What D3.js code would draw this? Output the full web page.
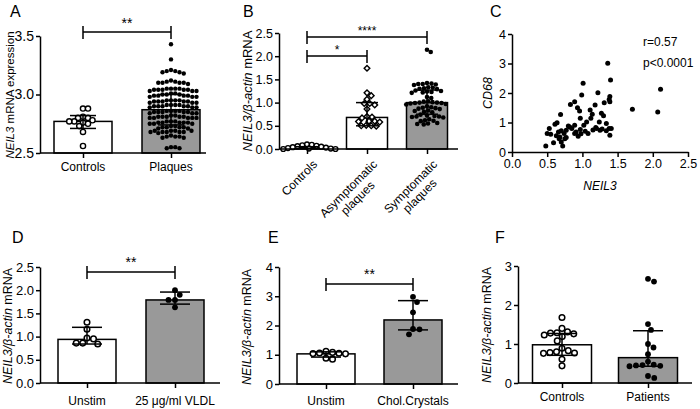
<!DOCTYPE html>
<html><head><meta charset="utf-8">
<script src="https://cdn.jsdelivr.net/npm/d3@7"></script>
<style>body{margin:0;background:#fff}svg{display:block}</style>
</head><body><svg id="c" width="700" height="409"></svg>
<script>
// ---------------- DATA ----------------
// Panel A
const aCategories = ["Controls", "Plaques"];
const aControls = [2.88, 2.88, 2.81, 2.80, 2.80, 2.78, 2.77, 2.77, 2.76, 2.75, 2.73, 2.68, 2.56];
const aPlaques = [3.43, 3.30,
  3.21, 3.20, 3.19, 3.18, 3.19, 3.20,
  3.11, 3.10, 3.10, 3.10, 3.10, 3.09, 3.11, 3.12,
  3.05, 3.05, 3.04, 3.04, 3.04, 3.03, 3.03, 3.03, 3.04, 3.05, 3.05, 3.04,
  3.01, 3.00, 3.00, 2.99, 2.99, 2.99, 2.98, 2.98, 2.99, 3.00, 3.01, 2.98,
  2.95, 2.95, 2.94, 2.94, 2.93, 2.93, 2.93, 2.94, 2.94, 2.95, 2.95, 2.94,
  2.91, 2.91, 2.90, 2.90, 2.89, 2.89, 2.89, 2.90, 2.90, 2.91, 2.91, 2.90,
  2.86, 2.86, 2.85, 2.85, 2.84, 2.84, 2.84, 2.85, 2.85, 2.86, 2.86, 2.85,
  2.82, 2.81, 2.81, 2.80, 2.80, 2.80, 2.80, 2.81, 2.81, 2.82, 2.81, 2.80,
  2.77, 2.77, 2.76, 2.76, 2.75, 2.75, 2.75, 2.76, 2.76, 2.77, 2.76,
  2.73, 2.72, 2.72, 2.71, 2.71, 2.72, 2.73, 2.72,
  2.69, 2.69, 2.68, 2.68, 2.68, 2.67, 2.68, 2.69, 2.69, 2.68,
  2.64, 2.64, 2.63, 2.63, 2.64, 2.65,
  2.55, 2.54, 2.54, 2.55];
const aMeans = [2.77, 2.87];
const aErrLow = [2.71, 2.74];
const aErrHigh = [2.82, 3.00];
const aTicks = [2.5, 3.0, 3.5];

// Panel B
const bCategories = ["Controls", "Asymptomatic\nplaques", "Symptomatic\nplaques"];
const bControls = [0.10, 0.09, 0.07, 0.05, 0.04, 0.02, 0.01, 0.00, 0.00, 0.01, 0.03, 0.06, 0.08];
const bAsymptomatic = [1.74, 1.21, 1.15, 1.07, 0.98, 0.98, 0.95, 0.86, 0.69, 0.67, 0.70, 0.60, 0.59, 0.58, 0.60, 0.50, 0.49, 0.50, 0.51];
const bSymptomatic = [2.14, 2.09,
  1.42, 1.41, 1.40, 1.40, 1.39, 1.38,
  1.33, 1.32, 1.31, 1.30, 1.29,
  1.26, 1.25, 1.24, 1.23, 1.22, 1.21,
  1.12, 1.10,
  1.03, 1.02, 1.01, 1.00, 1.00, 0.99, 0.99, 0.98, 0.97, 0.96,
  0.92, 0.90, 0.89, 0.88, 0.87, 0.86,
  0.83, 0.82, 0.80, 0.79,
  0.74, 0.72, 0.71, 0.70, 0.70, 0.69, 0.68,
  0.64, 0.62, 0.61, 0.60,
  0.56, 0.55, 0.54, 0.53];
const bMeans = [0.03, 0.68, 1.00];
const bErrLow = [0.01, 0.50, 0.75];
const bErrHigh = [0.05, 1.00, 1.27];
const bTicks = [0, 0.5, 1.0, 1.5, 2.0, 2.5];

// Panel C
const cNEIL3 = [0.48, 0.50, 0.53, 0.59, 0.61, 0.64, 0.66, 0.68, 0.70, 0.69, 0.70, 0.72, 0.74, 0.77, 0.77, 0.80, 0.85, 0.83, 0.89, 0.89,
  0.89, 0.94, 0.93, 0.96, 0.97, 0.97, 0.99, 1.01, 1.02, 1.04, 1.06, 1.08, 1.11, 1.12, 1.14, 1.18, 1.19, 1.20, 1.22, 1.24,
  1.25, 1.27, 1.30, 1.31, 1.34, 1.34, 1.36, 1.38, 1.38, 1.40, 1.39, 1.39, 1.39, 1.41, 1.71, 2.07, 2.11,
  0.55, 0.63, 0.67, 0.75, 0.82, 0.91, 0.98, 1.15, 1.28];
const cCD68 = [0.20, 0.63, 0.80, 0.31, 0.94, 0.99, 0.68, 0.51, 0.72, 1.27, 0.34, 0.20, 0.63, 0.74, 0.49, 0.88, 0.80, 1.61, 1.70, 0.91,
  0.63, 0.53, 1.50, 1.39, 0.76, 1.14, 1.93, 2.33, 0.91, 0.70, 1.02, 0.63, 1.42, 1.14, 1.28, 1.59, 0.83, 0.80, 2.01, 1.02,
  0.74, 1.31, 1.23, 1.67, 0.72, 0.97, 3.01, 1.78, 0.80, 2.44, 1.88, 1.70, 0.57, 0.80, 1.45, 1.36, 2.13,
  0.60, 0.55, 0.45, 0.45, 0.85, 0.68, 0.62, 0.75, 0.78];
const cXTicks = [0, 0.5, 1.0, 1.5, 2.0, 2.5];
const cYTicks = [0, 1, 2, 3, 4];
const cStats = ["r=0.57", "p<0.0001"];

// Panel D
const dCategories = ["Unstim", "25 μg/ml VLDL"];
const dUnstim = [1.31, 1.16, 0.97, 0.86, 0.84, 0.86, 0.95];
const dVLDL = [2.00, 1.90, 1.79, 1.79, 1.63];
const dMeans = [0.94, 1.79];
const dErrLow = [0.84, 1.70];
const dErrHigh = [1.20, 1.96];
const dTicks = [0, 0.5, 1.0, 1.5, 2.0, 2.5];

// Panel E
const eCategories = ["Unstim", "Chol.Crystals"];
const eUnstim = [1.12, 1.08, 1.06, 1.05, 1.04, 1.03, 0.88, 0.85];
const eChol = [2.98, 2.80, 2.45, 1.88, 1.87, 1.70];
const eMeans = [1.03, 2.19];
const eErrLow = [0.92, 1.85];
const eErrHigh = [1.10, 2.85];
const eTicks = [0, 1, 2, 3, 4];

// Panel F
const fCategories = ["Controls", "Patients"];
const fControls = [1.68, 1.40, 1.31, 1.29, 1.28, 1.26, 1.23, 1.19, 1.08, 0.89, 0.80, 0.77, 0.76, 0.78, 0.83, 0.61, 0.44];
const fPatients = [2.67, 2.60, 1.51, 1.36, 1.00, 0.91, 0.74, 0.55, 0.47, 0.46, 0.45, 0.44, 0.43, 0.18, 0.13];
const fMeans = [0.98, 0.65];
const fErrLow = [0.71, 0.43];
const fErrHigh = [1.27, 1.34];
const fTicks = [0, 1, 2, 3];

// ---------------- DRAWING ----------------
const svg = d3.select("#c");
const FONT = "'Liberation Sans', Arial, Helvetica, sans-serif";
svg.append("rect").attr("width", 700).attr("height", 409).attr("fill", "#fff");

function swarm(vals, y, diam) {
  const pts = vals.map((v, i) => ({ v, i, y: y(v) })).sort((a, b) => b.v - a.v);
  const placed = [];
  for (const p of pts) {
    let off = 0;
    for (let k = 0; k < 2000; k++) {
      const o = (k % 2 ? 1 : -1) * Math.ceil(k / 2) * 0.25;
      if (placed.every(q => (q.x - o) ** 2 + (q.y - p.y) ** 2 >= diam * diam)) { off = o; break; }
    }
    p.x = off; placed.push(p);
  }
  return pts;
}

function drawMarker(g, cx, cy, m) {
  if (m.type === "diamond") {
    g.append("path").attr("d", d3.symbol(d3.symbolSquare, m.size)())
      .attr("transform", `translate(${cx},${cy}) rotate(45)`)
      .attr("fill", m.filled ? "#000" : "#fff").attr("stroke", "#000").attr("stroke-width", m.sw || 1.3);
  } else {
    g.append("circle").attr("cx", cx).attr("cy", cy).attr("r", m.r)
      .attr("fill", m.filled ? "#000" : "#fff").attr("stroke", "#000").attr("stroke-width", m.filled ? 0 : (m.sw || 1.3));
  }
}

function yTitle(g, x, yc, segs, size) {
  const t = g.append("text").attr("transform", `translate(${x},${yc}) rotate(-90)`)
    .attr("text-anchor", "middle").attr("font-family", FONT).attr("font-size", size).attr("fill", "#000");
  segs.forEach(s => t.append("tspan").text(s[0]).attr("font-style", s[1] ? "italic" : "normal"));
}

function letter(x, y, s) {
  svg.append("text").attr("x", x).attr("y", y).text(s).attr("font-family", FONT).attr("font-size", 16).attr("fill", "#000");
}

function styleAxis(ax, fs) {
  ax.selectAll("path,line").attr("stroke", "#000").attr("stroke-width", 1.5);
  ax.selectAll("text").attr("font-family", FONT).attr("font-size", fs).attr("fill", "#000");
}

function drawBarPanel(cfg) {
  const g = svg.append("g");
  const y = d3.scaleLinear().domain(cfg.domain).range([cfg.y0, cfg.yTop]);
  const x = d3.scalePoint().domain(cfg.cats).range(cfg.xRange);
  // bars
  g.selectAll("rect.bar").data(cfg.means).join("rect").attr("class", "bar")
    .attr("x", (d, i) => x(cfg.cats[i]) - cfg.barW / 2).attr("y", d => y(d))
    .attr("width", cfg.barW).attr("height", d => cfg.y0 - y(d))
    .attr("fill", (d, i) => cfg.fills[i]).attr("stroke", "#000").attr("stroke-width", 1.5);
  // points
  cfg.groups.forEach((vals, i) => {
    const m = cfg.markers[i];
    const pts = swarm(vals, y, m.diam);
    pts.forEach(p => drawMarker(g, x(cfg.cats[i]) + p.x, p.y, m));
  });
  // error bars
  cfg.cats.forEach((c, i) => {
    const cx = x(c), cw = cfg.capW;
    const lo = y(cfg.errLow[i]), hi = y(cfg.errHigh[i]);
    g.append("line").attr("x1", cx).attr("x2", cx).attr("y1", lo).attr("y2", hi).attr("stroke", "#000").attr("stroke-width", 1.5);
    [lo, hi].forEach(yy => g.append("line").attr("x1", cx - cw / 2).attr("x2", cx + cw / 2).attr("y1", yy).attr("y2", yy).attr("stroke", "#000").attr("stroke-width", 1.5));
  });
  // y axis
  const ya = g.append("g").attr("transform", `translate(${cfg.yAxisX},0)`)
    .call(d3.axisLeft(y).tickValues(cfg.ticks).tickFormat(d3.format(cfg.fmt)).tickSize(4).tickPadding(2).tickSizeOuter(0));
  styleAxis(ya, cfg.tickFs);
  // x axis
  g.append("line").attr("x1", cfg.yAxisX).attr("x2", cfg.xEnd).attr("y1", cfg.y0).attr("y2", cfg.y0).attr("stroke", "#000").attr("stroke-width", 1.5);
  const xa = g.append("g").attr("transform", `translate(0,${cfg.y0})`)
    .call(d3.axisBottom(x).tickSize(5).tickFormat(""));
  xa.select(".domain").remove();
  styleAxis(xa, 12);
  // x labels
  if (cfg.rotated) {
    cfg.cats.forEach(c => {
      const lines = c.split("\n");
      const lg = g.append("g").attr("transform", `translate(${x(c) + 11},${cfg.y0 + 16}) rotate(-45)`);
      if (lines.length === 1) {
        lg.append("text").attr("text-anchor", "end").text(c).attr("font-family", FONT).attr("font-size", 12);
      } else {
        const t0 = lg.append("text").attr("text-anchor", "end").text(lines[0]).attr("font-family", FONT).attr("font-size", 12);
        const L = t0.node().getComputedTextLength();
        lines.slice(1).forEach((ln, k) => lg.append("text").attr("text-anchor", "middle").attr("x", -L / 2).attr("y", 13 * (k + 1))
          .text(ln).attr("font-family", FONT).attr("font-size", 12));
      }
    });
  } else {
    g.selectAll("text.xl").data(cfg.cats).join("text").attr("class", "xl")
      .attr("x", d => x(d)).attr("y", cfg.xLabelY).attr("text-anchor", "middle").text(d => d)
      .attr("font-family", FONT).attr("font-size", 12).attr("fill", "#000");
  }
  // brackets
  (cfg.brackets || []).forEach(b => {
    const x1 = x(cfg.cats[b.from]), x2 = x(cfg.cats[b.to]);
    g.append("path").attr("d", `M${x1},${b.y - 6}V${b.y + 7}M${x1},${b.y}H${x2}M${x2},${b.y - 6}V${b.y + 7}`)
      .attr("fill", "none").attr("stroke", "#000").attr("stroke-width", 1.5);
    g.append("text").attr("x", (x1 + x2) / 2).attr("y", b.y - b.gap).attr("text-anchor", "middle").text(b.label)
      .attr("font-family", FONT).attr("font-size", b.fs).attr("fill", "#000");
  });
  yTitle(g, cfg.titleX, cfg.titleY, cfg.title, cfg.titleFs);
}

const titleBeta = [["NEIL3/β-actin", true], [" mRNA", false]];
const open = (r, diam, sw) => ({ type: "circle", filled: false, r, diam, sw });
const filled = (r, diam) => ({ type: "circle", filled: true, r, diam });

// Panel A
drawBarPanel({
  cats: aCategories, groups: [aControls, aPlaques], means: aMeans, errLow: aErrLow, errHigh: aErrHigh,
  domain: [2.5, 3.5], ticks: aTicks, fmt: ".1f", tickFs: 14,
  y0: 153, yTop: 36, yAxisX: 40, xEnd: 206, xRange: [83, 171], barW: 58, capW: 26,
  fills: ["#fff", "#999"], markers: [open(2.6, 5, 1.4), filled(2.2, 4.2)],
  xLabelY: 171, brackets: [{ from: 0, to: 1, y: 32, label: "**", gap: 4, fs: 14 }],
  title: [["NEIL3", true], [" mRNA expression", false]], titleX: 14, titleY: 95, titleFs: 11.5
});
letter(10, 17, "A");

// Panel B
drawBarPanel({
  cats: bCategories, groups: [bControls, bAsymptomatic, bSymptomatic], means: bMeans, errLow: bErrLow, errHigh: bErrHigh,
  domain: [0, 2.5], ticks: bTicks, fmt: ".1f", tickFs: 12.5,
  y0: 149, yTop: 33, yAxisX: 279, xEnd: 458, xRange: [307, 427], barW: 41, capW: 22,
  fills: ["#fff", "#fff", "#999"],
  markers: [open(2.4, 4.6, 1.4), { type: "diamond", filled: false, size: 16, diam: 5, sw: 1.4 }, filled(2.3, 4.3)],
  rotated: true,
  brackets: [{ from: 0, to: 2, y: 37, label: "****", gap: 2, fs: 12 }, { from: 0, to: 1, y: 56, label: "*", gap: 2, fs: 12 }],
  title: titleBeta, titleX: 252, titleY: 91, titleFs: 13
});
letter(243, 17, "B");

// Panel C
(function () {
  const g = svg.append("g");
  const x = d3.scaleLinear().domain([0, 2.5]).range([512, 688]);
  const y = d3.scaleLinear().domain([0, 4]).range([152, 34]);
  g.selectAll("circle").data(cNEIL3).join("circle")
    .attr("cx", d => x(d)).attr("cy", (d, i) => y(cCD68[i])).attr("r", 2.5).attr("fill", "#000");
  const ya = g.append("g").attr("transform", "translate(512,0)")
    .call(d3.axisLeft(y).tickValues(cYTicks).tickFormat(d3.format("d")).tickSize(4).tickPadding(2).tickSizeOuter(0));
  styleAxis(ya, 12.5);
  const xa = g.append("g").attr("transform", "translate(0,152)")
    .call(d3.axisBottom(x).tickValues(cXTicks).tickFormat(d3.format(".1f")).tickSize(5).tickPadding(2).tickSizeOuter(0));
  styleAxis(xa, 12.5);
  g.append("text").attr("x", 600).attr("y", 190).attr("text-anchor", "middle").text("NEIL3")
    .attr("font-family", FONT).attr("font-style", "italic").attr("font-size", 12);
  yTitle(g, 492, 93, [["CD68", true]], 12.5);
  cStats.forEach((s, i) => g.append("text").attr("x", 643).attr("y", 46 + i * 21).text(s)
    .attr("font-family", FONT).attr("font-size", 12));
})();
letter(490, 17, "C");

// Panel D
drawBarPanel({
  cats: dCategories, groups: [dUnstim, dVLDL], means: dMeans, errLow: dErrLow, errHigh: dErrHigh,
  domain: [0, 2.5], ticks: dTicks, fmt: ".1f", tickFs: 13,
  y0: 383, yTop: 267, yAxisX: 40, xEnd: 220, xRange: [87, 175], barW: 58, capW: 30,
  fills: ["#fff", "#999"], markers: [open(2.8, 6.5, 1.5), filled(2.9, 6.5)],
  xLabelY: 405, brackets: [{ from: 0, to: 1, y: 272, label: "**", gap: 5, fs: 14 }],
  title: titleBeta, titleX: 12, titleY: 326, titleFs: 12.5
});
letter(12, 243, "D");

// Panel E
drawBarPanel({
  cats: eCategories, groups: [eUnstim, eChol], means: eMeans, errLow: eErrLow, errHigh: eErrHigh,
  domain: [0, 4], ticks: eTicks, fmt: "d", tickFs: 13,
  y0: 384, yTop: 267, yAxisX: 279, xEnd: 458, xRange: [326, 413], barW: 58, capW: 30,
  fills: ["#fff", "#999"], markers: [open(2.8, 6.5, 1.5), filled(2.9, 6.5)],
  xLabelY: 405, brackets: [{ from: 0, to: 1, y: 284, label: "**", gap: 5, fs: 14 }],
  title: titleBeta, titleX: 251, titleY: 327, titleFs: 12.5
});
letter(268, 243, "E");

// Panel F
drawBarPanel({
  cats: fCategories, groups: [fControls, fPatients], means: fMeans, errLow: fErrLow, errHigh: fErrHigh,
  domain: [0, 3], ticks: fTicks, fmt: "d", tickFs: 13,
  y0: 383, yTop: 266, yAxisX: 518, xEnd: 692, xRange: [562, 648], barW: 59, capW: 30,
  fills: ["#fff", "#999"], markers: [open(2.8, 6.5, 1.5), filled(2.9, 6.5)],
  xLabelY: 401,
  title: titleBeta, titleX: 491, titleY: 325, titleFs: 12.5
});
letter(495, 243, "F");
</script>
</body></html>
